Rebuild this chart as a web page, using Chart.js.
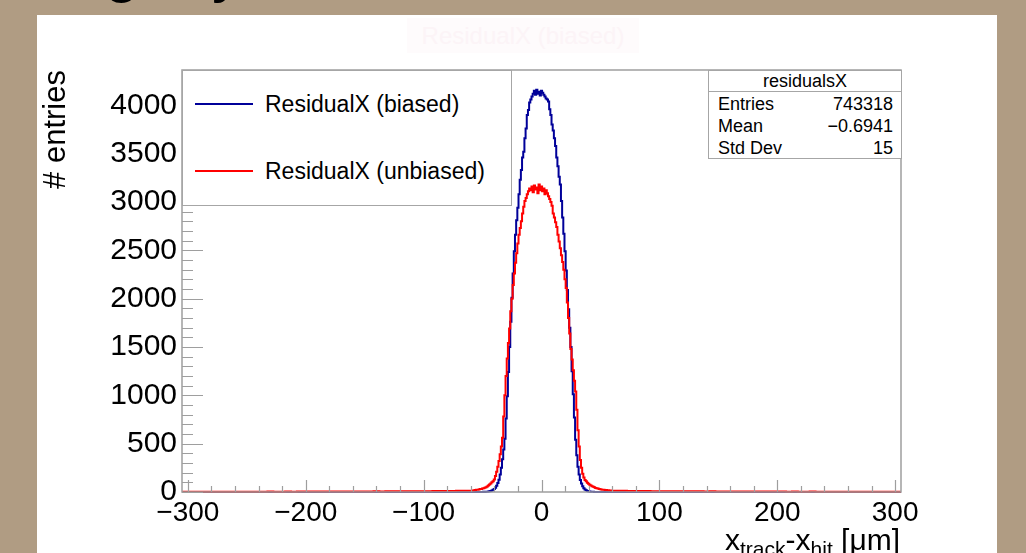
<!DOCTYPE html>
<html>
<head>
<meta charset="utf-8">
<script src="https://cdn.jsdelivr.net/npm/chart.js@4.4.1/dist/chart.umd.min.js"></script>
<style>
  body { margin: 0; width: 1026px; height: 553px; overflow: hidden; background: #b09c83; font-family: "Liberation Sans", Arial, sans-serif; }
  #panel { position: absolute; left: 37px; top: 15px; width: 960px; height: 538px; background: #fff; }
  .glyph { position: absolute; font-size: 64px; line-height: 64px; color: #000; }
  #ghost { position: absolute; left: 407px; top: 18px; width: 232px; height: 35px; background: #fefbfc; color: #fcf4f7; font-size: 24px; line-height: 35px; text-align: center; }
  #chart { position: absolute; left: 0; top: 0; }
  #legend { position: absolute; left: 182px; top: 70px; width: 328px; height: 134px; background: #fff; border: 1.5px solid #a6a6a6; font-size: 23px; }
  .lg-line { position: absolute; left: 12px; width: 58px; height: 2px; }
  .lg-text { position: absolute; left: 82px; line-height: 28px; white-space: nowrap; }
  #stats { position: absolute; left: 708px; top: 70px; width: 192px; height: 87px; background: #fff; border: 1.5px solid #a6a6a6; font-size: 18px; }
  #stats .ttl { position: absolute; left: 0; top: 1px; width: 100%; height: 18px; line-height: 18px; text-align: center; border-bottom: 1.5px solid #a6a6a6; padding-bottom: 1px; }
  #stats .row { position: absolute; left: 9px; right: 8px; height: 22px; line-height: 22px; }
  #stats .row span:last-child { float: right; }
  #xtitle { position: absolute; right: 126px; top: 522px; font-size: 30px; line-height: 36px; white-space: nowrap; }
  #xtitle sub { font-size: 21px; vertical-align: -6px; line-height: 0; }
</style>
</head>
<body>
<div class="glyph" style="left:104px; top:-64px;">g</div>
<div class="glyph" style="left:212px; top:-64px;">y</div>
<div id="panel"></div>
<div id="ghost">ResidualX (biased)</div>
<canvas id="chart" width="1026" height="553"></canvas>
<div id="legend">
  <div class="lg-line" style="top:32px; background:#000099;"></div>
  <div class="lg-text" style="top:19px;">ResidualX (biased)</div>
  <div class="lg-line" style="top:99px; background:#ff0000;"></div>
  <div class="lg-text" style="top:86px;">ResidualX (unbiased)</div>
</div>
<div id="stats">
  <div class="ttl">residualsX</div>
  <div class="row" style="top:22px;"><span>Entries</span><span>743318</span></div>
  <div class="row" style="top:44px;"><span>Mean</span><span>&minus;0.6941</span></div>
  <div class="row" style="top:66px;"><span>Std Dev</span><span>15</span></div>
</div>
<div id="xtitle">x<sub>track</sub>-x<sub>hit</sub> [&mu;m]</div>
<script>
// axis ticks
const xTickValues = [-300, -200, -100, 0, 100, 200, 300];
const yTickValues = [0, 500, 1000, 1500, 2000, 2500, 3000, 3500, 4000];

// tails: bins every 5 um, from -305 to -65 and from 65 to 305
const biasedTailLeft = [0, 0,0,0,1,0,0,0,0,1,0, 0,0,1,0,0,0,0,0,1,0, 0,1,0,0,0,1,0,0,0,1, 0,0,1,0,0,1,0,1,0,0, 1,0,1,0,1,1,0,1];
const biasedTailRight = [1,0,1,1,0,1,0,0,1,0, 0,1,0,0,1,0,0,0,1,0, 0,0,1,0,0,0,0,1,0,0, 0,1,0,0,0,0,1,0,0,0, 0,0,1,0,0,0,0,0, 0];
const unbiasedTailLeft = [2, 2,3,2,2,3,2,3,2,2,3, 3,2,3,3,4,3,3,4,3,4, 4,5,4,4,5,4,5,5,6,5, 6,6,7,6,7,7,8,7,8,9, 8,9,10,10,11,11,12,13];
const unbiasedTailRight = [12,12,11,11,10,10,9,9,8,9, 8,7,8,7,7,6,7,6,6,5, 6,5,5,4,5,4,4,5,4,3, 4,3,3,4,3,3,2,3,3,2, 3,2,2,3,2,2,3,2, 2];

// core: bins every 1 um, from -59 to 61
const biasedCore = [
  0,0,1,0,0,1,0,1,0,1,2,1,3,
  3,5,7,10,15,22,32,
  45,65,92,128,180,250,340,440,550,760,
  990,1240,1500,1760,2010,2260,2490,2660,2810,2940,
  3080,3230,3330,3460,3520,3660,3760,3900,3950,4030,
  4060,4090,4120,4150,4110,4160,4120,4140,4100,4150,
  4130,4110,4090,4070,4060,4040,3960,3900,3800,3740,
  3660,3580,3460,3370,3260,3180,3010,2840,2670,2490,
  2290,2090,1890,1700,1500,1250,1010,770,540,380,
  260,180,125,88,60,40,27,18,11,7,
  4,3,2,2,1,1,0,1,0,0,
  1,0,0,1,0,0,0,1,0,0,0
];
const unbiasedCore = [
  14,16,17,20,22,23,27,30,32,36,
  40,44,50,56,66,78,88,100,112,130,
  165,210,260,320,390,470,560,780,1000,1200,
  1380,1540,1690,1870,2000,2140,2260,2370,2470,2570,
  2660,2730,2800,2880,2950,3010,3040,3080,3110,3140,
  3120,3160,3100,3170,3130,3150,3090,3180,3120,3160,
  3110,3140,3080,3120,3090,3060,3030,3000,2960,2880,
  2840,2790,2740,2660,2590,2520,2450,2380,2300,2200,
  2110,1960,1800,1640,1480,1370,1260,1150,1040,850,
  640,470,330,250,190,150,125,110,96,85,
  76,68,60,55,48,42,38,35,31,28,
  26,24,22,21,20,18,17,16,15,14,13
];

function buildPoints(tailL, core, tailR) {
  const pts = [];
  tailL.forEach((v, i) => pts.push({x: -305 + 5 * i, y: v}));
  core.forEach((v, i) => pts.push({x: -59 + i, y: v}));
  tailR.forEach((v, i) => pts.push({x: 65 + 5 * i, y: v}));
  return pts;
}

const fontFamily = '"Liberation Sans", Arial, sans-serif';
const frameColor = '#9e9e9e';

function fmt(v) {
  return v < 0 ? '\u2212' + Math.abs(v) : String(v);
}

const rootFrame = {
  id: 'rootFrame',
  afterDatasetsDraw(chart) {
    const {ctx, chartArea: a, scales: {x, y}} = chart;
    ctx.save();
    ctx.strokeStyle = frameColor;
    ctx.lineWidth = 1.5;
    ctx.strokeRect(a.left, a.top, a.right - a.left, a.bottom - a.top);
    ctx.lineWidth = 1.2;
    ctx.beginPath();
    for (let v = 0; v <= y.max; v += 100) {
      const py = Math.round(y.getPixelForValue(v)) + 0.5;
      const len = v % 500 === 0 ? 21 : 11;
      ctx.moveTo(a.left, py);
      ctx.lineTo(a.left + len, py);
    }
    for (let v = -300; v <= 300; v += 20) {
      const px = Math.round(x.getPixelForValue(v)) + 0.5;
      const len = v % 100 === 0 ? 12 : 6;
      ctx.moveTo(px, a.bottom);
      ctx.lineTo(px, a.bottom - len);
    }
    ctx.stroke();
    ctx.restore();
  }
};

new Chart(document.getElementById('chart'), {
  type: 'line',
  data: {
    datasets: [
      {
        label: 'ResidualX (biased)',
        data: buildPoints(biasedTailLeft, biasedCore, biasedTailRight),
        borderColor: '#000099',
        borderWidth: 2,
        pointRadius: 0,
        stepped: 'middle',
        order: 1,
        clip: {left: 0, right: 0, top: 0, bottom: 3}
      },
      {
        label: 'ResidualX (unbiased)',
        data: buildPoints(unbiasedTailLeft, unbiasedCore, unbiasedTailRight),
        borderColor: '#ff0000',
        borderWidth: 2,
        pointRadius: 0,
        stepped: 'middle',
        order: 0,
        clip: {left: 0, right: 0, top: 0, bottom: 3}
      }
    ]
  },
  options: {
    responsive: false,
    animation: false,
    devicePixelRatio: 1,
    layout: { padding: { top: 70, right: 125, left: 0, bottom: 0 } },
    plugins: { legend: { display: false }, tooltip: { enabled: false } },
    scales: {
      x: {
        type: 'linear',
        min: -305,
        max: 305,
        afterBuildTicks: s => { s.ticks = xTickValues.map(v => ({value: v})); },
        afterFit: s => { s.height = 61; },
        grid: { display: false, drawTicks: false },
        border: { display: false },
        ticks: { color: '#000', font: { family: fontFamily, size: 28 }, padding: 4, autoSkip: false, maxRotation: 0, callback: v => fmt(v) }
      },
      y: {
        min: 0,
        max: 4365,
        afterBuildTicks: s => { s.ticks = yTickValues.map(v => ({value: v})); },
        afterFit: s => { s.width = 182; },
        grid: { display: false, drawTicks: false },
        border: { display: false },
        ticks: { color: '#000', font: { family: fontFamily, size: 30 }, padding: 5, autoSkip: false, callback: v => fmt(v) },
        title: { display: true, text: '# entries', align: 'end', color: '#000', font: { family: fontFamily, size: 31 }, padding: { top: 38, bottom: 0 } }
      }
    }
  },
  plugins: [rootFrame]
});
</script>
</body>
</html>
